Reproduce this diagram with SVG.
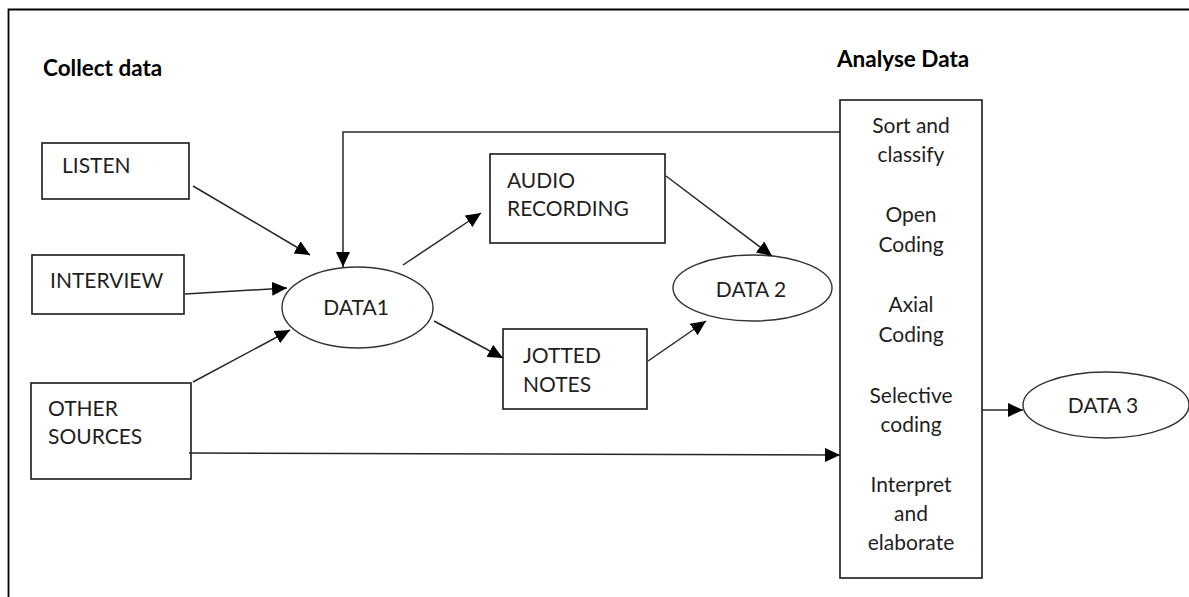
<svg xmlns="http://www.w3.org/2000/svg" width="1189" height="597" viewBox="0 0 1189 597">
  <style>
    .box { fill: #ffffff; stroke: #1a1a1a; stroke-width: 1.6; }
    .ell { fill: #ffffff; stroke: #333333; stroke-width: 1.4; }
    .lbl { font-family: Lato, "Open Sans", "Liberation Sans", sans-serif; font-size: 21px; fill: #1f1f1f; }
    .hdr { font-family: Lato, "Open Sans", "Liberation Sans", sans-serif; font-size: 22.5px; font-weight: bold; fill: #000000; }
    .mid { text-anchor: middle; }
    .conn { fill: none; stroke: #262626; stroke-width: 1.5; }
  </style>
  <defs>
    <marker id="arrow" markerUnits="userSpaceOnUse" markerWidth="16" markerHeight="14" viewBox="0 0 16 14" refX="15" refY="7" orient="auto">
      <path d="M0,0 L15,7 L0,14 Z" fill="#000000"/>
    </marker>
  </defs>
  <rect width="1189" height="597" fill="#ffffff"/>
  <path d="M8.5,597 V9.5 H1189" fill="none" stroke="#000000" stroke-width="1.8"/>

  <text class="hdr" x="43" y="76">Collect data</text>
  <text class="hdr" x="837" y="67">Analyse Data</text>

  <g id="listen">
    <rect class="box" x="42" y="143" width="147" height="56"/>
    <text class="lbl" x="62" y="173">LISTEN</text>
  </g>
  <g id="interview">
    <rect class="box" x="32" y="255" width="152" height="59"/>
    <text class="lbl" x="50" y="288">INTERVIEW</text>
  </g>
  <g id="other-sources">
    <rect class="box" x="31" y="383" width="160" height="96"/>
    <text class="lbl" x="48" y="416">OTHER</text>
    <text class="lbl" x="48" y="444">SOURCES</text>
  </g>
  <g id="data1">
    <ellipse class="ell" cx="357.5" cy="307.5" rx="75.5" ry="40.5"/>
    <text class="lbl mid" x="356" y="315">DATA1</text>
  </g>
  <g id="audio-recording">
    <rect class="box" x="490" y="154" width="175" height="89"/>
    <text class="lbl" x="507" y="188">AUDIO</text>
    <text class="lbl" x="507" y="216">RECORDING</text>
  </g>
  <g id="jotted-notes">
    <rect class="box" x="503" y="329" width="144" height="80"/>
    <text class="lbl" x="523" y="363">JOTTED</text>
    <text class="lbl" x="523" y="392">NOTES</text>
  </g>
  <g id="data2">
    <ellipse class="ell" cx="752.5" cy="288" rx="79.5" ry="33"/>
    <text class="lbl mid" x="751" y="297">DATA 2</text>
  </g>
  <g id="analyse">
    <rect class="box" x="840" y="100" width="142" height="478"/>
    <text class="lbl mid" x="911" y="133">Sort and</text>
    <text class="lbl mid" x="911" y="162">classify</text>
    <text class="lbl mid" x="911" y="222">Open</text>
    <text class="lbl mid" x="911" y="252">Coding</text>
    <text class="lbl mid" x="911" y="312">Axial</text>
    <text class="lbl mid" x="911" y="342">Coding</text>
    <text class="lbl mid" x="911" y="403">Selective</text>
    <text class="lbl mid" x="911" y="432">coding</text>
    <text class="lbl mid" x="911" y="492">Interpret</text>
    <text class="lbl mid" x="911" y="521">and</text>
    <text class="lbl mid" x="911" y="550">elaborate</text>
  </g>
  <g id="data3">
    <ellipse class="ell" cx="1106" cy="405" rx="83" ry="33"/>
    <text class="lbl mid" x="1103" y="413">DATA 3</text>
  </g>

  <g id="connectors">
    <line class="conn" x1="193" y1="186" x2="310" y2="255" marker-end="url(#arrow)"/>
    <line class="conn" x1="185" y1="294" x2="287" y2="288" marker-end="url(#arrow)"/>
    <line class="conn" x1="193" y1="382" x2="290" y2="330" marker-end="url(#arrow)"/>
    <line class="conn" x1="189" y1="453" x2="840" y2="455" marker-end="url(#arrow)"/>
    <path class="conn" d="M840,132 H343 V267" marker-end="url(#arrow)"/>
    <line class="conn" x1="403" y1="265" x2="481" y2="213" marker-end="url(#arrow)"/>
    <line class="conn" x1="434" y1="321" x2="503" y2="358" marker-end="url(#arrow)"/>
    <line class="conn" x1="666" y1="176" x2="772" y2="256" marker-end="url(#arrow)"/>
    <line class="conn" x1="648" y1="361" x2="706" y2="321" marker-end="url(#arrow)"/>
    <line class="conn" x1="982" y1="410" x2="1023" y2="410" marker-end="url(#arrow)"/>
  </g>
</svg>
